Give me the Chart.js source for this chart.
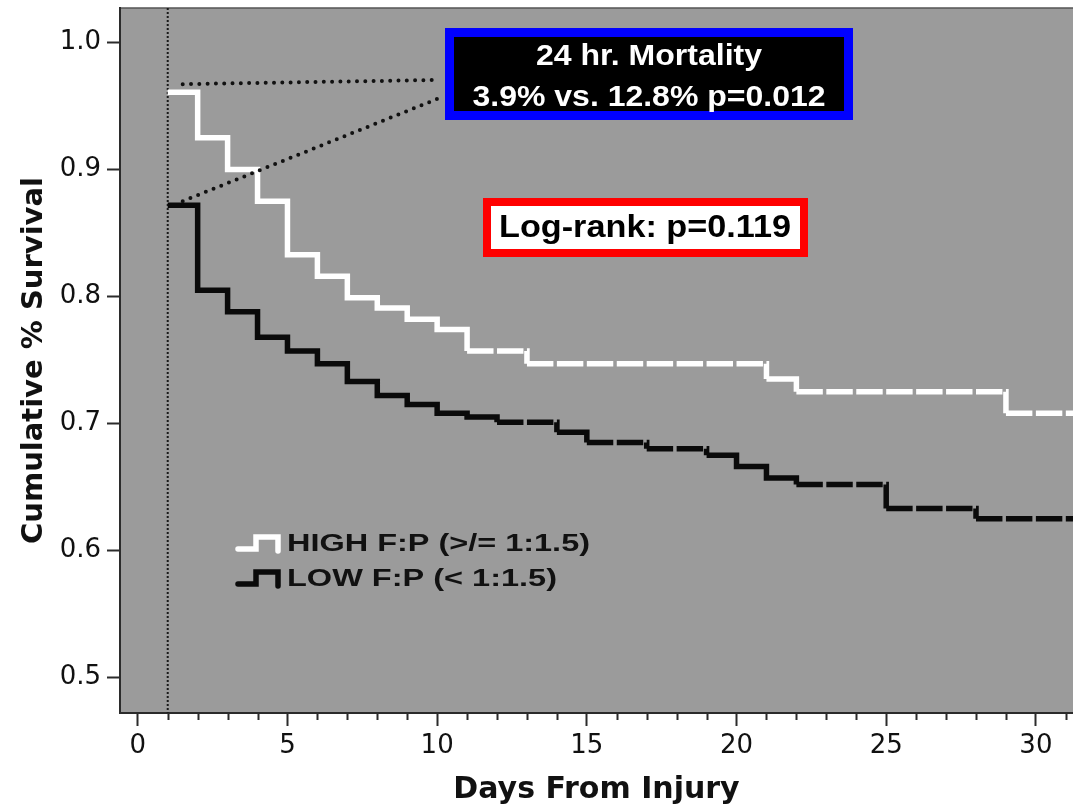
<!DOCTYPE html>
<html>
<head>
<meta charset="utf-8">
<script src="https://cdn.jsdelivr.net/npm/chart.js@4.4.1/dist/chart.umd.min.js"></script>
<style>
  html, body { margin: 0; padding: 0; background: #fff; }
  #wrap { width: 1073px; height: 807px; }
</style>
</head>
<body>
<div id="wrap"><canvas id="km"></canvas></div>
<script>
// Kaplan-Meier steps: day of the drop and the survival after it
const highDays = [1, 2, 3, 4, 5, 6, 7, 8, 9, 10, 11, 13, 21, 22, 29, 32];
const highSurv = [0.961, 0.925, 0.900, 0.875, 0.833, 0.816, 0.799, 0.791, 0.782, 0.774, 0.757, 0.747, 0.735, 0.725, 0.708, 0.708];
const lowDays = [1, 2, 3, 4, 5, 6, 7, 8, 9, 10, 11, 12, 14, 15, 17, 19, 20, 21, 22, 25, 28, 32];
const lowSurv = [0.872, 0.805, 0.788, 0.768, 0.757, 0.747, 0.733, 0.722, 0.715, 0.708, 0.705, 0.701, 0.693, 0.685, 0.680, 0.675, 0.666, 0.657, 0.652, 0.633, 0.625, 0.625];

const xTicks = [0, 5, 10, 15, 20, 25, 30];
const yTicks = [0.5, 0.6, 0.7, 0.8, 0.9, 1.0];
const legendLabels = ['HIGH F:P (>/= 1:1.5)', 'LOW F:P (< 1:1.5)'];
const mortalityLines = ['24 hr. Mortality', '3.9% vs. 12.8% p=0.012'];
const logRankLabel = 'Log-rank: p=0.119';

const AXIS = '#2b2b2b';
const TEXT_FONT = '"Liberation Sans", Arial, sans-serif';

// long flat steps get a short gap at each day, like the original plot
function dayPx(chart) {
    const x = chart.scales.x;
    return x.getPixelForValue(1) - x.getPixelForValue(0);
}
const stepSegment = {
    borderDash: (ctx) => {
        const d = dayPx(ctx.chart);
        if (ctx.p1.x - ctx.p0.x < d * 1.5) return undefined;
        return [d - 3.5, 3.5];
    },
    // odd/even offset keeps every long step in its own path so the dash restarts
    borderDashOffset: (ctx) => {
        const d = dayPx(ctx.chart);
        if (ctx.p1.x - ctx.p0.x < d * 1.5) return 0;
        return ctx.p0DataIndex % 2 ? 0.001 : 0.002;
    }
};

// draws text squeezed/stretched to a given width
function fitText(ctx, text, x, y, width, align) {
    const w = ctx.measureText(text).width;
    const sx = width / w;
    ctx.save();
    ctx.translate(align === 'center' ? x - width / 2 : x, y);
    ctx.scale(sx, 1);
    ctx.textAlign = 'left';
    ctx.fillText(text, 0, 0);
    ctx.restore();
}

function legendIcon(ctx, x, y, color) {
    ctx.save();
    ctx.strokeStyle = color;
    ctx.lineWidth = 5.5;
    ctx.lineJoin = 'miter';
    ctx.beginPath();
    ctx.moveTo(x, y + 12);
    ctx.lineTo(x + 18, y + 12);
    ctx.lineTo(x + 18, y);
    ctx.lineTo(x + 40, y);
    ctx.lineTo(x + 40, y + 14);
    ctx.stroke();
    ctx.restore();
}

const decor = {
    id: 'decor',
    beforeDraw(chart) {
        const { ctx, chartArea: a } = chart;
        ctx.save();
        ctx.fillStyle = '#9b9b9b';
        ctx.fillRect(a.left, a.top, a.right - a.left, a.bottom - a.top);
        ctx.strokeStyle = '#555';
        ctx.lineWidth = 1.5;
        ctx.beginPath();
        ctx.moveTo(a.left, a.top);
        ctx.lineTo(a.right, a.top);
        ctx.stroke();
        ctx.restore();
    },
    beforeDatasetsDraw(chart) {
        const { ctx, chartArea: a, scales } = chart;
        // 24 hour marker
        const x1 = scales.x.getPixelForValue(highDays[0]);
        ctx.save();
        ctx.strokeStyle = '#1a1a1a';
        ctx.lineWidth = 2;
        ctx.setLineDash([2, 2]);
        ctx.beginPath();
        ctx.moveTo(x1, a.top);
        ctx.lineTo(x1, a.bottom);
        ctx.stroke();
        ctx.restore();
    },
    afterDatasetsDraw(chart) {
        const { ctx, scales } = chart;
        const sx = scales.x, sy = scales.y;

        // mortality box
        const box = { l: 445, t: 28, r: 853, b: 120, bw: 9 };
        ctx.save();
        ctx.fillStyle = '#0000ff';
        ctx.fillRect(box.l, box.t, box.r - box.l, box.b - box.t);
        ctx.fillStyle = '#000';
        ctx.fillRect(box.l + box.bw, box.t + box.bw, box.r - box.l - 2 * box.bw, box.b - box.t - 2 * box.bw);
        ctx.fillStyle = '#fff';
        ctx.textBaseline = 'alphabetic';
        ctx.font = 'bold 30px ' + TEXT_FONT;
        fitText(ctx, mortalityLines[0], 649, 65, 226, 'center');
        fitText(ctx, mortalityLines[1], 649, 106, 353, 'center');

        // dotted leaders from the day-1 values to the box
        const x0 = sx.getPixelForValue(highDays[0]) + 15;
        ctx.strokeStyle = '#111';
        ctx.lineWidth = 4;
        ctx.lineCap = 'round';
        ctx.setLineDash([0, 8.3]);
        ctx.beginPath();
        ctx.moveTo(x0, sy.getPixelForValue(highSurv[0]) - 8);
        ctx.lineTo(box.l - 10, 80);
        ctx.moveTo(x0, sy.getPixelForValue(lowSurv[0]) - 4);
        ctx.lineTo(box.l - 3, 97);
        ctx.stroke();
        ctx.setLineDash([]);

        // log-rank box
        const rb = { l: 483, t: 198, r: 808, b: 257, bw: 8 };
        ctx.fillStyle = '#ff0000';
        ctx.fillRect(rb.l, rb.t, rb.r - rb.l, rb.b - rb.t);
        ctx.fillStyle = '#fff';
        ctx.fillRect(rb.l + rb.bw, rb.t + rb.bw, rb.r - rb.l - 2 * rb.bw, rb.b - rb.t - 2 * rb.bw);
        ctx.fillStyle = '#000';
        ctx.font = 'bold 31px ' + TEXT_FONT;
        fitText(ctx, logRankLabel, 645, 237, 292, 'center');

        // legend
        legendIcon(ctx, 238, 537, '#ffffff');
        legendIcon(ctx, 238, 572, '#0a0a0a');
        ctx.fillStyle = '#111';
        ctx.font = 'bold 24px ' + TEXT_FONT;
        fitText(ctx, legendLabels[0], 287, 551, 303, 'left');
        fitText(ctx, legendLabels[1], 287, 586, 270, 'left');
        ctx.restore();
    },
    afterDraw(chart) {
        // one small tick per day between the labelled ones
        const { ctx, chartArea: a, scales } = chart;
        const x = scales.x;
        ctx.save();
        ctx.strokeStyle = AXIS;
        ctx.lineWidth = 2;
        ctx.beginPath();
        for (let d = Math.ceil(x.min); d <= Math.floor(x.max); d++) {
            if (xTicks.includes(d)) continue;
            const px = Math.round(x.getPixelForValue(d)) + 0.5;
            ctx.moveTo(px, a.bottom);
            ctx.lineTo(px, a.bottom + 7);
        }
        ctx.stroke();
        ctx.restore();
    }
};

function noPadding(scale) {
    scale.paddingLeft = 0;
    scale.paddingRight = 0;
    scale.paddingTop = 0;
    scale.paddingBottom = 0;
}

const tickFont = { family: '"DejaVu Sans", sans-serif', size: 26, lineHeight: 1.2 };

new Chart(document.getElementById('km'), {
    type: 'line',
    data: {
        datasets: [{
            label: legendLabels[1],
            data: lowDays.map((d, i) => ({ x: d, y: lowSurv[i] })),
            borderColor: '#0a0a0a',
            borderWidth: 5.5,
            stepped: true,
            pointRadius: 0,
            segment: stepSegment
        }, {
            label: legendLabels[0],
            data: highDays.map((d, i) => ({ x: d, y: highSurv[i] })),
            borderColor: '#ffffff',
            borderWidth: 5.5,
            stepped: true,
            pointRadius: 0,
            segment: stepSegment
        }]
    },
    options: {
        responsive: true,
        maintainAspectRatio: false,
        animation: false,
        layout: { padding: { top: 8, left: 0, right: 0, bottom: 0 } },
        plugins: {
            legend: { display: false },
            tooltip: { enabled: false }
        },
        scales: {
            x: {
                type: 'linear',
                min: -0.594,
                max: 31.24,
                afterBuildTicks: (s) => { s.ticks = xTicks.map(v => ({ value: v })); },
                afterFit: (s) => { s.height = 94; noPadding(s); },
                grid: { drawOnChartArea: false, tickLength: 13, tickWidth: 2, tickColor: AXIS },
                border: { color: AXIS, width: 2 },
                ticks: { font: tickFont, color: '#111', padding: 5, maxRotation: 0 },
                title: {
                    display: true,
                    text: 'Days From Injury',
                    color: '#111',
                    font: { family: '"DejaVu Sans", sans-serif', size: 30, weight: 'bold', lineHeight: 1 },
                    padding: { top: 0, bottom: 2 }
                }
            },
            y: {
                min: 0.4719,
                max: 1.0273,
                afterBuildTicks: (s) => { s.ticks = yTicks.map(v => ({ value: v })); },
                afterFit: (s) => { s.width = 120; noPadding(s); },
                grid: { drawOnChartArea: false, tickLength: 13, tickWidth: 2, tickColor: AXIS },
                border: { color: AXIS, width: 2 },
                ticks: {
                    font: tickFont,
                    color: '#111',
                    padding: 6,
                    callback: (v) => Number(v).toFixed(1)
                },
                title: {
                    display: true,
                    text: 'Cumulative % Survival',
                    color: '#111',
                    font: { family: '"DejaVu Sans", sans-serif', size: 29, weight: 'bold', lineHeight: 1 },
                    padding: { top: 20, bottom: 0 }
                }
            }
        }
    },
    plugins: [decor]
});
</script>
</body>
</html>
